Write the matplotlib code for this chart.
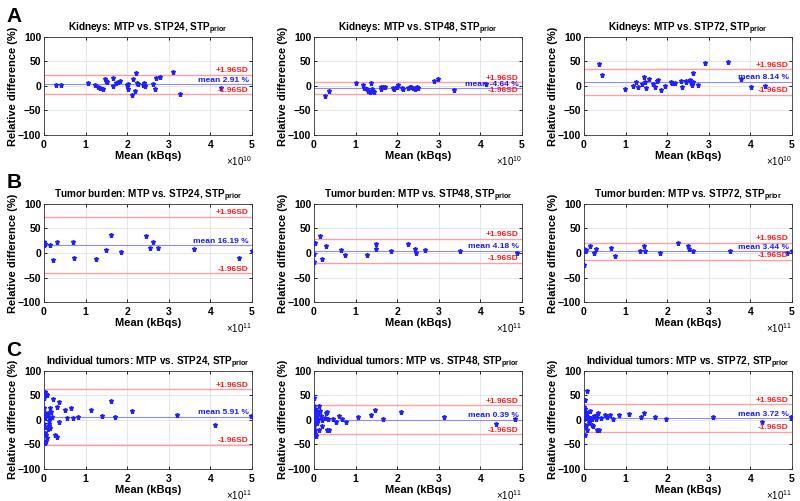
import numpy as np
import matplotlib
matplotlib.use("Agg")
import matplotlib.pyplot as plt
from matplotlib.ticker import ScalarFormatter

plt.rcParams['font.family'] = ['Liberation Sans', 'DejaVu Sans']
plt.rcParams['mathtext.fontset'] = 'custom'
plt.rcParams['mathtext.rm'] = 'Liberation Sans'
plt.rcParams['mathtext.bf'] = 'Liberation Sans:bold'

# ---- data (x in units of 1e10 for kidneys, 1e11 for tumors) ----
kid24_x = [0.30, 0.42, 1.06, 1.22, 1.30, 1.34, 1.42, 1.47, 1.49, 1.51, 1.65, 1.66, 1.74, 1.78, 1.82, 2.00, 2.02, 2.03,
           2.12, 2.14, 2.19, 2.21, 2.24, 2.26, 2.38, 2.40, 2.41, 2.42, 2.61, 2.66, 2.70, 2.78, 3.10, 3.26, 4.26]
kid24_y = [1.7, 1.0, 6.4, 1.7, -3.0, -3.7, -7.1, 14.6, 10.5, 7.8, 16.6, -0.3, 5.1, 7.1, 9.2, 1.7, -5.8, 3.0,
           -18.6, 13.9, -11.2, 26.1, 5.1, 3.7, 2.4, 5.1, 1.0, -0.3, 3.7, -7.1, 15.3, 18.0, 28.1, -16.6, -3.7]
kid48_x = [0.26, 0.36, 1.01, 1.17, 1.19, 1.27, 1.31, 1.34, 1.37, 1.39, 1.41, 1.44, 1.60, 1.61, 1.67, 1.71, 1.90,
           1.92, 2.00, 2.02, 2.11, 2.14, 2.26, 2.31, 2.34, 2.37, 2.43, 2.48, 2.51, 2.88, 2.97, 3.37, 4.13]
kid48_y = [-20.7, -9.8, 5.1, 1.7, -5.1, -7.1, -9.8, -12.5, 6.4, -7.1, -9.8, -12.5, -7.1, -3.0, -3.0, -1.7, -5.1,
           -7.1, -1.7, 1.7, -5.1, -7.1, -4.4, -3.0, -1.7, -5.1, -7.1, -3.0, -5.1, 10.5, 14.6, -8.5, 3.7]
kid72_x = [0.35, 0.44, 0.98, 1.18, 1.24, 1.31, 1.39, 1.44, 1.47, 1.48, 1.57, 1.67, 1.70, 1.76, 1.78, 1.86, 1.95,
           2.08, 2.11, 2.18, 2.33, 2.35, 2.44, 2.45, 2.55, 2.58, 2.60, 2.61, 2.63, 2.75, 2.92, 3.46, 3.77, 4.02, 4.34]
kid72_y = [44.4, 22.0, -7.1, -0.3, 7.8, -3.0, 4.4, 18.6, 7.1, -5.1, 13.9, 3.7, -3.0, 9.2, 11.9, -8.5, -0.3,
           8.5, 6.4, 5.8, 9.8, -1.7, 7.8, 9.8, 11.9, 6.4, 2.4, 7.8, 25.4, 1.7, 47.1, 48.5, 13.2, -3.0, -0.3]

tb24_x = [0.00, 0.01, 0.02, 0.14, 0.22, 0.31, 0.70, 0.73, 1.26, 1.48, 1.62, 1.86, 2.45, 2.54, 2.61, 2.73, 3.61, 4.69, 5.00]
tb24_y = [15.3, 23.4, 18.0, 17.3, -13.9, 22.0, 22.0, -9.8, -11.2, 7.1, 37.6, 3.0, 34.9, 9.2, 22.7, 11.2, 8.5, -9.2, 3.7]
tb48_x = [0.00, 0.02, 0.00, 0.15, 0.20, 0.28, 0.65, 0.74, 1.28, 1.48, 1.49, 1.85, 2.26, 2.43, 2.44, 2.67, 3.52, 4.87]
tb48_y = [-2.0, 19.9, -19.2, 34.2, -11.6, 15.1, 6.8, -3.4, -4.8, 7.5, 19.2, 4.1, 18.5, 8.2, 0.7, 6.8, 3.4, -0.7]
tb72_x = [0.00, 0.01, 0.02, 0.04, 0.15, 0.23, 0.29, 0.66, 0.75, 1.35, 1.45, 1.46, 1.82, 2.27, 2.49, 2.52, 2.63,
          3.52, 4.88, 4.99]
tb72_y = [-23.5, 7.8, 3.8, 5.8, 13.3, 1.0, 7.8, 9.9, -5.8, 4.4, 13.3, 4.4, 0.3, 19.5, 14.0, 8.5, 4.4, 4.4, -0.3, 5.1]

it24_x = [0.008, 0.024, 0.04, 0.064, 0.008, 0.032, 0.048, 0.016, 0.008, 0.016, 0.032, 0.056, 0.072, 0.016, 0.04,
          0.08, 0.096, 0.112, 0.128, 0.144, 0.169, 0.185, 0.144, 0.209, 0.112, 0.12, 0.088, 0.369, 0.321, 0.353,
          0.265, 0.305, 0.506, 0.554, 0.65, 0.69, 0.819, 1.124, 1.388, 1.613, 1.709, 2.111, 3.194, 4.101, 4.976]
it24_y = [45.4, 57.0, 53.6, 50.9, 23.5, 14.7, 9.9, 4.4, -9.2, -14.0, -26.3, -30.4, -36.5, -46.8, -43.3,
          9.2, 14.7, 6.5, -12.6, -16.0, 16.0, 5.8, 24.2, 43.3, -2.4, -7.8, -19.5, 36.5, 27.0, -3.7,
          -31.7, -34.5, 20.1, 4.4, 24.2, 3.8, 5.8, 19.5, 8.5, 38.6, 5.1, 18.8, 10.6, -11.3, 7.2]
it48_x = [0.008, 0.008, 0.024, 0.0, 0.016, 0.04, 0.024, 0.0, 0.008, 0.024, 0.016, 0.04, 0.064, 0.089, 0.105,
          0.081, 0.129, 0.145, 0.169, 0.185, 0.201, 0.121, 0.266, 0.29, 0.314, 0.346, 0.362, 0.322, 0.459, 0.523,
          0.604, 0.684, 0.773, 1.055, 1.377, 1.474, 1.651, 2.101, 3.116, 4.38, 4.839]
it48_y = [45.2, 28.0, 21.2, 14.4, 7.5, 4.1, -2.7, -9.6, -13.0, -19.9, -28.1, -32.2, 17.8, 11.0, 2.1,
          -6.2, 28.0, 17.1, 7.5, -0.7, -13.0, -19.9, 4.1, 14.4, 15.8, 2.1, -19.9, -19.9, 2.7, -3.4,
          7.5, 2.1, -4.8, 6.2, 8.9, 19.2, 0.7, 16.4, 4.8, -8.9, 2.1]
it72_x = [0.016, 0.08, 0.008, 0.024, 0.0, 0.04, 0.016, 0.0, 0.024, 0.04, 0.016, 0.064, 0.08, 0.096, 0.113,
          0.129, 0.145, 0.161, 0.185, 0.201, 0.225, 0.241, 0.281, 0.322, 0.346, 0.305, 0.354, 0.402, 0.498, 0.563,
          0.627, 0.707, 0.836, 1.093, 1.367, 1.447, 1.704, 1.97, 3.111, 4.285, 4.968]
it72_y = [40.3, 58.7, 26.6, 21.2, 17.7, 10.9, 6.1, 0.7, -9.6, -13.0, -30.0, -19.8, 14.3, 6.1, -2.7,
          -6.1, 17.7, 4.1, -9.6, 0.7, -13.0, 7.5, 0.7, 9.6, 14.3, -19.8, -19.8, 4.1, 8.9, 6.1,
          9.6, 2.0, 8.9, 11.6, 6.1, 13.0, 4.8, 2.0, 4.8, -4.1, 5.5]

xs = [[kid24_x, kid48_x, kid72_x], [tb24_x, tb48_x, tb72_x], [it24_x, it48_x, it72_x]]
ys = [[kid24_y, kid48_y, kid72_y], [tb24_y, tb48_y, tb72_y], [it24_y, it48_y, it72_y]]

means = [[2.91, -4.64, 8.14], [16.19, 4.18, 3.44], [5.91, 0.39, 3.72]]
upper = [[23.2, 7.9, 34.1], [73.8, 28.6, 21.0], [62.2, 30.0, 31.7]]
lower = [[-17.4, -17.2, -17.9], [-41.4, -20.2, -14.2], [-50.4, -29.2, -24.3]]

groups = ["Kidneys", "Tumor burden", "Individual tumors"]
stps = ["STP24", "STP48", "STP72"]
scales = [1e10, 1e11, 1e11]
letters = ["A", "B", "C"]

fig = plt.figure(figsize=(8, 5.01), dpi=100)

lefts = [0.055, 0.3925, 0.73]
bottoms = [0.7305, 0.397, 0.064]
w, h = 0.26, 0.196

for r in range(3):
    for c in range(3):
        ax = fig.add_axes([lefts[c], bottoms[r], w, h])
        sc = scales[r]
        x = np.array(xs[r][c]) * sc
        y = np.array(ys[r][c])
        ax.axhline(upper[r][c], color='#ffa0a0', lw=1.0, zorder=1)
        ax.axhline(lower[r][c], color='#ffa0a0', lw=1.0, zorder=1)
        ax.axhline(means[r][c], color='#8c8cff', lw=0.8, zorder=1)
        ax.plot(x, y, linestyle='none', marker='*', ms=3.6, color='#2020ff', zorder=3)
        ax.set_xlim(0, 5 * sc)
        ax.set_ylim(-100, 100)
        ax.set_xticks(np.arange(0, 6) * sc)
        ax.set_yticks([-100, -50, 0, 50, 100])
        fmt = ScalarFormatter(useMathText=True)
        fmt.set_powerlimits((0, 0))
        ax.xaxis.set_major_formatter(fmt)
        ax.xaxis.get_offset_text().set_fontsize(7)
        ax.grid(True, color='#e3e3e3', lw=0.6)
        ax.set_axisbelow(True)
        ax.tick_params(direction='in', length=2.5, width=0.6, labelsize=7.5, pad=2,
                       top=True, right=True)
        for lab in ax.get_xticklabels() + ax.get_yticklabels():
            lab.set_fontweight('bold')
        for s in ax.spines.values():
            s.set_linewidth(0.6)
            s.set_color('#333333')
        ax.set_title(groups[r] + ": MTP vs. " + stps[c] + r", STP$_{\mathbf{prior}}$",
                     fontsize=7.2, fontweight='bold', pad=4)
        ax.set_xlabel("Mean (kBqs)", fontsize=8, fontweight='bold', labelpad=1)
        ax.set_ylabel("Relative difference (%)", fontsize=8, fontweight='bold', labelpad=0)
        tr = ax.get_yaxis_transform()
        ax.text(0.985, upper[r][c] + 1, "+1.96SD", transform=tr, ha='right', va='bottom',
                color='#ff1a1a', fontsize=6, fontweight='bold')
        ax.text(0.985, means[r][c] + 1, "mean %.2f %%" % means[r][c], transform=tr, ha='right',
                va='bottom', color='#1a1aff', fontsize=6, fontweight='bold')
        ax.text(0.985, lower[r][c] + 1, "-1.96SD", transform=tr, ha='right', va='bottom',
                color='#ff1a1a', fontsize=6, fontweight='bold')
    fig.text(0.008, [0.968, 0.635, 0.3][r], letters[r], fontsize=15, fontweight='bold',
             ha='left', va='center')

fig.savefig("out.png", dpi=100)
